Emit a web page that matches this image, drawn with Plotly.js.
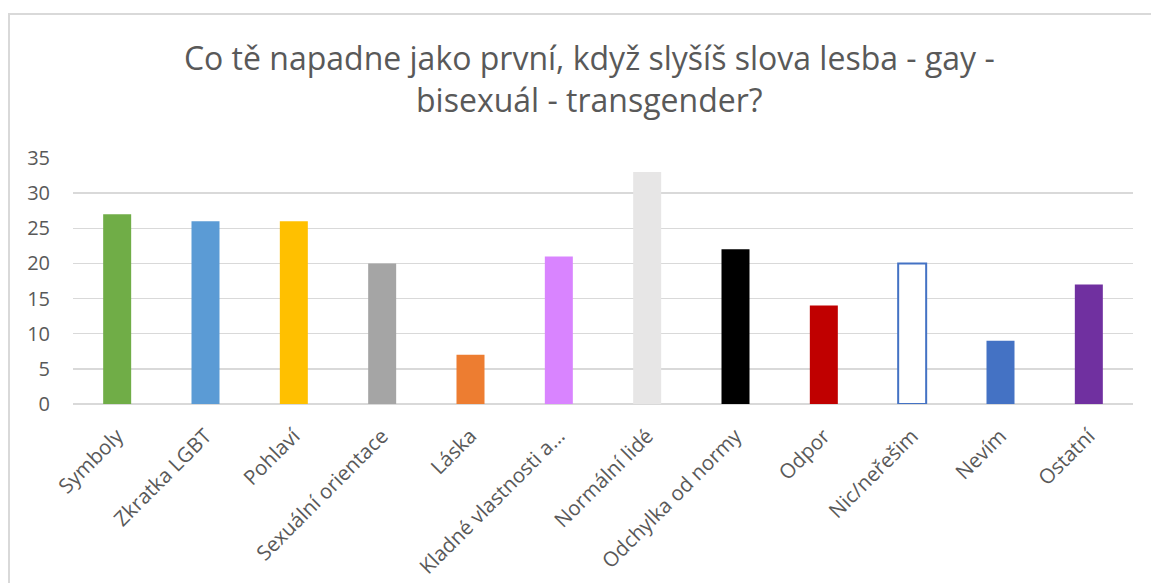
<!DOCTYPE html>
<html>
<head>
<meta charset="utf-8">
<script src="https://cdn.plot.ly/plotly-3.0.1.min.js"></script>
<style>
  html, body { margin: 0; padding: 0; background: #ffffff; }
  #frame { position: absolute; left: 8px; top: 13px; right: 0; bottom: 0; border-left: 2px solid #D9D9D9; border-top: 2px solid #D9D9D9; pointer-events: none; z-index: 5; }
  #chart { position: absolute; left: 0; top: 0; width: 1151px; height: 583px; }
</style>
</head>
<body>
<div id="chart"></div>
<div id="frame"></div>
<script>
const categories = ["Symboly", "Zkratka LGBT", "Pohlaví", "Sexuální orientace", "Láska", "Kladné vlastnosti a...", "Normální lidé", "Odchylka od normy", "Odpor", "Nic/neřešim", "Nevím", "Ostatní"];
const values = [27, 26, 26, 20, 7, 21, 33, 22, 14, 20, 9, 17];
const barColors = ["#70AD47", "#5B9BD5", "#FFC000", "#A5A5A5", "#ED7D31", "#D984FF", "#E7E6E6", "#000000", "#C00000", "#FFFFFF", "#4472C4", "#7030A0"];
const outlineColors = ["rgba(0,0,0,0)", "rgba(0,0,0,0)", "rgba(0,0,0,0)", "rgba(0,0,0,0)", "rgba(0,0,0,0)", "rgba(0,0,0,0)", "rgba(0,0,0,0)", "rgba(0,0,0,0)", "rgba(0,0,0,0)", "#4472C4", "rgba(0,0,0,0)", "rgba(0,0,0,0)"];
const outlineWidths = [0, 0, 0, 0, 0, 0, 0, 0, 0, 2, 0, 0];
const yTicks = [0, 5, 10, 15, 20, 25, 30, 35];
const titleText = "Co tě napadne jako první, když slyšíš slova lesba - gay -<br>bisexuál - transgender?";

const textColor = "#595959";
const fontFamily = "'Open Sans', 'Noto Sans', sans-serif";

const trace = {
  type: "bar",
  x: categories,
  y: values,
  marker: { color: barColors, line: { color: outlineColors, width: outlineWidths } },
  hoverinfo: "x+y"
};

const layout = {
  width: 1151,
  height: 583,
  margin: { l: 73, r: 18, t: 158, b: 179 },
  paper_bgcolor: "#ffffff",
  plot_bgcolor: "#ffffff",
  bargap: 0.683,
  showlegend: false,
  font: { family: fontFamily, color: textColor },
  title: {
    text: titleText,
    font: { family: fontFamily, size: 32, color: textColor },
    xref: "container", x: 0.512, xanchor: "center",
    yref: "container", y: 0.88, yanchor: "top"
  },
  xaxis: {
    type: "category",
    tickangle: -45,
    tickfont: { family: fontFamily, size: 20.5, color: textColor },
    showgrid: false,
    showline: false,
    ticks: "",
    zeroline: false,
    ticklabelstandoff: 15
  },
  yaxis: {
    range: [0, 35],
    tickvals: yTicks,
    ticktext: yTicks.map(String),
    tickfont: { family: fontFamily, size: 20, color: textColor },
    showgrid: true,
    gridcolor: "#D9D9D9",
    gridwidth: 1.5,
    zeroline: true,
    zerolinecolor: "#D9D9D9",
    zerolinewidth: 1.5,
    showline: false,
    ticks: "",
    ticklabelstandoff: 22
  }
};

Plotly.newPlot("chart", [trace], layout, { displayModeBar: false, staticPlot: true });
</script>
</body>
</html>
